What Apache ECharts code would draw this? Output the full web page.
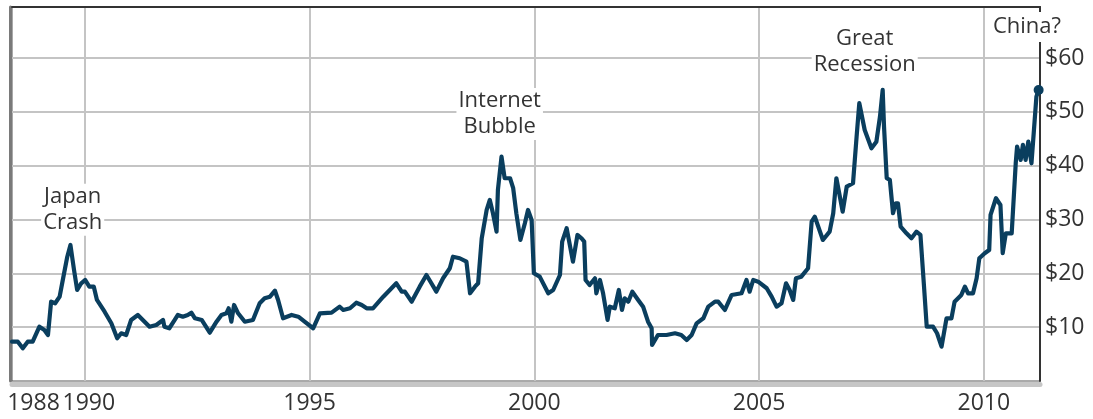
<!DOCTYPE html>
<html>
<head>
<meta charset="utf-8">
<script src="https://cdn.jsdelivr.net/npm/echarts@6/dist/echarts.min.js"></script>
<style>
  html, body { margin: 0; padding: 0; background: #fff; }
  #chart { width: 1093px; height: 419px; }
</style>
</head>
<body>
<div id="chart"></div>
<script>
// Price history, decimal year vs. dollars
const years = [
  1988.38, 1988.51, 1988.62, 1988.73, 1988.84, 1988.99, 1989.10, 1989.18, 1989.25, 1989.34,
  1989.44, 1989.51, 1989.61, 1989.68, 1989.76, 1989.83, 1989.92, 1990.01, 1990.10, 1990.20,
  1990.27, 1990.44, 1990.59, 1990.72, 1990.81, 1990.92, 1991.03, 1991.18, 1991.29, 1991.44,
  1991.59, 1991.74, 1991.77, 1991.88, 1992.00, 1992.07, 1992.18, 1992.29, 1992.37, 1992.45,
  1992.60, 1992.78, 1992.93, 1993.04, 1993.15, 1993.20, 1993.26, 1993.32, 1993.41, 1993.56,
  1993.74, 1993.89, 1994.00, 1994.12, 1994.23, 1994.30, 1994.41, 1994.60, 1994.75, 1994.89,
  1995.08, 1995.23, 1995.49, 1995.67, 1995.75, 1995.90, 1996.04, 1996.16, 1996.27, 1996.41,
  1996.64, 1996.93, 1997.05, 1997.12, 1997.27, 1997.45, 1997.60, 1997.71, 1997.82, 1997.97,
  1998.12, 1998.19, 1998.34, 1998.49, 1998.57, 1998.68, 1998.75, 1998.83, 1998.94, 1999.01,
  1999.08, 1999.16, 1999.19, 1999.27, 1999.34, 1999.46, 1999.53, 1999.60, 1999.69, 1999.79,
  1999.86, 1999.94, 1999.99, 2000.12, 2000.31, 2000.42, 2000.57, 2000.62, 2000.72, 2000.86,
  2000.96, 2001.05, 2001.11, 2001.14, 2001.23, 2001.35, 2001.38, 2001.46, 2001.53, 2001.63,
  2001.68, 2001.79, 2001.88, 2001.95, 2002.01, 2002.09, 2002.18, 2002.31, 2002.42, 2002.53,
  2002.61, 2002.62, 2002.75, 2002.94, 2003.13, 2003.27, 2003.39, 2003.50, 2003.61, 2003.76,
  2003.87, 2004.02, 2004.09, 2004.24, 2004.39, 2004.61, 2004.72, 2004.79, 2004.87, 2004.98,
  2005.17, 2005.28, 2005.39, 2005.50, 2005.60, 2005.68, 2005.76, 2005.82, 2005.94, 2006.09,
  2006.17, 2006.24, 2006.42, 2006.57, 2006.65, 2006.72, 2006.86, 2006.95, 2007.09, 2007.17,
  2007.23, 2007.35, 2007.50, 2007.61, 2007.69, 2007.75, 2007.78, 2007.84, 2007.91, 2007.98,
  2008.04, 2008.09, 2008.15, 2008.28, 2008.39, 2008.50, 2008.59, 2008.67, 2008.73, 2008.87,
  2008.96, 2009.06, 2009.17, 2009.28, 2009.35, 2009.50, 2009.58, 2009.65, 2009.76, 2009.84,
  2009.90, 2010.02, 2010.12, 2010.15, 2010.27, 2010.37, 2010.42, 2010.49, 2010.62, 2010.71,
  2010.74, 2010.82, 2010.87, 2010.93, 2010.99, 2011.06, 2011.11, 2011.17, 2011.22
];
const prices = [
  7.30, 7.30, 6.08, 7.30, 7.30, 10.09, 9.48, 8.55, 14.74, 14.44,
  15.67, 18.77, 23.10, 25.28, 20.63, 16.91, 18.16, 18.77, 17.53, 17.53,
  15.06, 12.88, 10.72, 7.94, 8.87, 8.55, 11.34, 12.27, 11.34, 10.09,
  10.41, 11.34, 10.09, 9.80, 11.34, 12.27, 11.95, 12.27, 12.70, 11.65,
  11.34, 8.98, 11.02, 12.27, 12.58, 13.51, 11.02, 14.13, 12.58, 11.02,
  11.34, 14.44, 15.37, 15.67, 16.78, 15.06, 11.65, 12.27, 11.95, 11.02,
  9.80, 12.58, 12.70, 13.81, 13.20, 13.51, 14.55, 14.13, 13.51, 13.51,
  15.67, 18.16, 16.60, 16.60, 14.74, 17.53, 19.70, 18.16, 16.60, 19.09,
  20.95, 23.10, 22.81, 22.17, 16.30, 17.53, 18.16, 26.52, 31.78, 33.64,
  31.17, 27.75, 35.50, 41.69, 37.68, 37.68, 35.82, 31.17, 26.21, 29.31,
  31.78, 29.93, 20.02, 19.39, 16.30, 16.91, 19.70, 25.89, 28.38, 22.17,
  27.14, 26.52, 25.89, 18.77, 17.84, 19.09, 16.30, 18.77, 16.30, 11.34,
  13.81, 13.51, 16.91, 13.20, 15.37, 14.74, 16.60, 15.06, 13.81, 11.02,
  9.80, 6.69, 8.55, 8.55, 8.87, 8.55, 7.62, 8.55, 10.72, 11.65,
  13.81, 14.74, 14.74, 13.20, 15.99, 16.30, 18.77, 16.60, 18.77, 18.46,
  17.23, 15.67, 13.81, 14.44, 18.16, 16.91, 15.06, 19.09, 19.39, 20.95,
  29.61, 30.54, 26.21, 27.75, 31.17, 37.68, 31.47, 36.12, 36.75, 45.41,
  51.62, 46.65, 43.25, 44.48, 49.13, 54.09, 47.27, 37.68, 37.36, 31.17,
  33.03, 33.03, 28.68, 27.45, 26.52, 27.75, 27.14, 17.53, 10.09, 10.09,
  8.87, 6.38, 11.65, 11.65, 14.74, 15.99, 17.53, 16.30, 16.30, 19.09,
  22.81, 23.74, 24.35, 30.86, 33.96, 32.71, 23.74, 27.45, 27.45, 40.46,
  43.55, 41.08, 43.87, 41.08, 44.48, 40.46, 46.04, 52.84, 54.09
];

// Axis range and tick labels
const startYear = 1988.38;
const endYear = 2011.25;
const yearTicks = [1990, 1995, 2000, 2005, 2010];
const startLabel = '1988';
const priceTicks = [10, 20, 30, 40, 50, 60];
const priceMax = 69.5;

// Event notes placed in data space
const noteTexts = ['Japan\nCrash', 'Internet\nBubble', 'Great\nRecession', 'China?'];
const noteYears = [1989.73, 1999.23, 2007.35, 2010.96];
const notePrices = [31.8, 49.6, 61.1, 65.8];

const FONT = '"Open Sans", "Noto Sans", sans-serif';
const TEXT = '#333';
const GRID = '#c4c4c4';
const LINE = '#0a3e5e';

const points = years.map((y, i) => {
  const v = [y, prices[i]];
  return i === years.length - 1 ? { value: v, symbol: 'circle', symbolSize: 10 } : v;
});

const notePoints = noteTexts.map((t, i) => ({
  coord: [noteYears[i], notePrices[i]],
  symbol: 'rect',
  symbolSize: 1,
  itemStyle: { color: 'rgba(0,0,0,0)' },
  label: {
    show: true,
    position: 'inside',
    formatter: t,
    fontFamily: FONT,
    fontSize: 22,
    lineHeight: 26,
    color: TEXT,
    backgroundColor: '#fff',
    padding: i === 3 ? [3, 2, 1, 2] : [0, 2]
  }
}));

const hiddenParts = {
  axisLine: { show: false }, axisTick: { show: false }, splitLine: { show: false }
};
const tickFont = { fontFamily: FONT, fontSize: 23, color: TEXT };

const chart = echarts.init(document.getElementById('chart'), null, { renderer: 'canvas' });
chart.setOption({
  animation: false,
  backgroundColor: '#fff',
  grid: {
    left: 12, right: 53, top: 7, bottom: 38,
    show: true, borderColor: '#555', borderWidth: 1, backgroundColor: 'transparent'
  },
  xAxis: [
    {
      // year grid and year labels
      type: 'value', position: 'bottom', min: startYear, max: endYear,
      offset: 3,
      axisLine: { show: true, onZero: false, lineStyle: { color: '#c6c6c6', width: 5 } },
      axisTick: { show: false, customValues: yearTicks },
      splitLine: { show: true, lineStyle: { color: GRID, width: 2 } },
      axisLabel: Object.assign({
        customValues: yearTicks,
        showMinLabel: true,
        showMaxLabel: true,
        hideOverlap: false,
        margin: 8,
        formatter: v => v === 1990 ? '{s|1990}' : String(v),
        rich: { s: Object.assign({ padding: [0, 0, 0, 8] }, tickFont) }
      }, tickFont)
    },
    {
      // frame top edge
      type: 'value', position: 'top', min: startYear, max: endYear,
      axisLine: { show: true, onZero: false, lineStyle: { color: '#333', width: 2 } },
      axisTick: { show: false }, axisLabel: { show: false }, splitLine: { show: false }
    },
    Object.assign({
      // starting-year label at the left end
      type: 'value', position: 'bottom', min: startYear, max: endYear, offset: 3,
      axisLabel: Object.assign({
        customValues: [startYear],
        showMinLabel: true,
        alignMinLabel: 'center',
        margin: 8,
        formatter: () => '{p|' + startLabel + '}',
        rich: { p: Object.assign({ padding: [0, 0, 0, 43] }, tickFont) }
      }, tickFont)
    }, hiddenParts)
  ],
  yAxis: [
    {
      type: 'value', position: 'right', min: 0, max: priceMax, interval: 10,
      axisLine: { show: true, onZero: false, lineStyle: { color: '#333', width: 2 } },
      axisTick: { show: false },
      splitLine: { show: true, showMinLine: false, showMaxLine: false, lineStyle: { color: GRID, width: 2 } },
      axisLabel: Object.assign({
        margin: 5,
        showMaxLabel: false,
        formatter: v => priceTicks.indexOf(v) >= 0 ? '$' + v : ''
      }, tickFont)
    },
    {
      type: 'value', position: 'left', min: 0, max: priceMax, offset: 1.5,
      axisLine: { show: true, onZero: false, lineStyle: { color: '#7a7a7a', width: 3 } },
      axisTick: { show: false }, axisLabel: { show: false }, splitLine: { show: false }
    }
  ],
  series: [{
    type: 'line',
    xAxisIndex: 0,
    yAxisIndex: 0,
    data: points,
    showSymbol: true,
    symbol: 'none',
    itemStyle: { color: LINE },
    lineStyle: { color: LINE, width: 4.2, join: 'round', cap: 'round' },
    markPoint: { silent: true, data: notePoints }
  }]
});
</script>
</body>
</html>
